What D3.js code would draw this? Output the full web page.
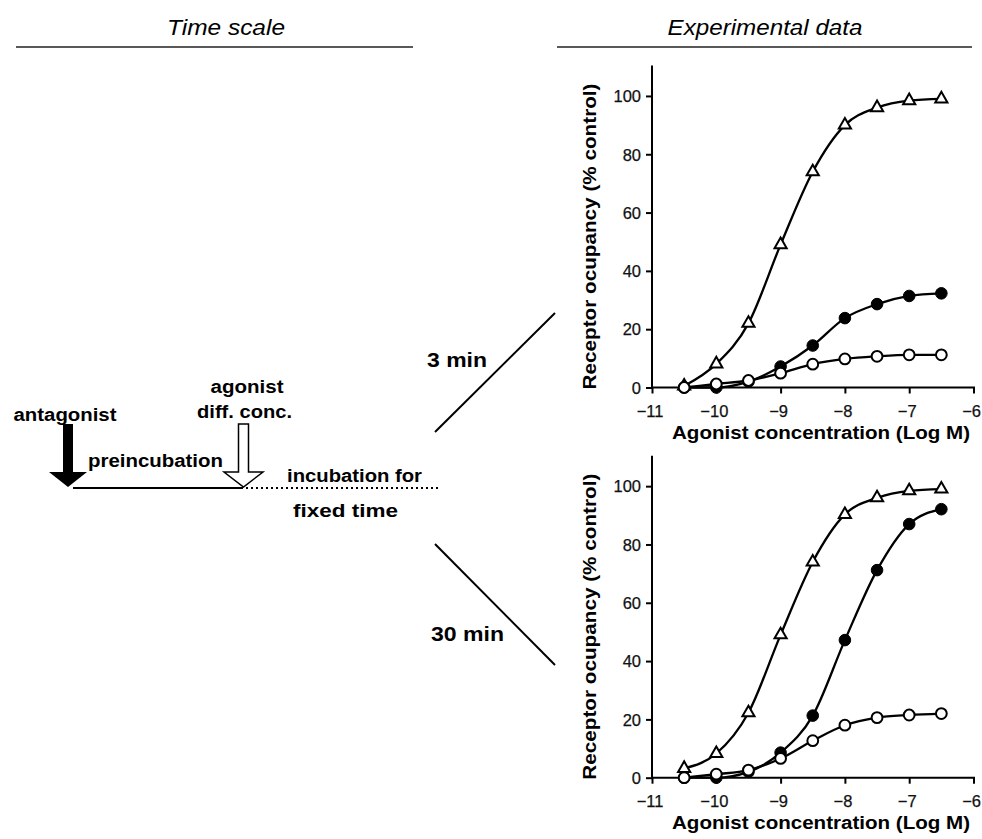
<!DOCTYPE html>
<html><head><meta charset="utf-8">
<script src="https://cdn.jsdelivr.net/npm/d3@7/dist/d3.min.js"></script>
<style>body{margin:0;background:#fff}svg{display:block}</style>
</head><body><svg id="c" width="982" height="839"></svg>
<script>
// ---- data ----
const logConc = [-10.5, -10, -9.5, -9, -8.5, -8, -7.5, -7, -6.5];
const xTicks = [-11, -10, -9, -8, -7, -6];
const yTicks = [0, 20, 40, 60, 80, 100];
// 3 min panel
const min3Triangle = [0.5, 8.1, 22, 49, 74, 90, 96, 98.4, 99];
const min3Filled   = [0, 0, 2, 7.2, 14.4, 23.8, 28.6, 31.4, 32.3];
const min3Open     = [0, 1.2, 2.4, 4.9, 8, 9.8, 10.7, 11.2, 11.2];
// 30 min panel
const min30Triangle = [3.2, 8.3, 22.3, 49, 74, 90.3, 96, 98.4, 99];
const min30Filled   = [0, 0, 2, 8.6, 21.3, 47.2, 71.2, 87, 92.1];
const min30Open     = [0, 1.2, 2.6, 6.6, 12.7, 18, 20.6, 21.5, 22];
const panelLabels = ["3 min", "30 min"];

const svg = d3.select("#c");
const F = "'Liberation Sans', Arial, sans-serif";

function txt(x, y, t, opt) {
  const e = svg.append("text").attr("x", x).attr("y", y).attr("text-anchor", "middle")
    .style("font-family", opt.family || F).style("font-size", opt.size + "px")
    .style("font-weight", opt.weight || "bold").style("font-style", opt.style || "normal").text(t);
  if (opt.len) e.attr("textLength", opt.len).attr("lengthAdjust", "spacingAndGlyphs");
  return e;
}

// headers
txt(226, 35, "Time scale", {size: 22, weight: "normal", style: "italic", len: 118});
txt(765, 35, "Experimental data", {size: 22, weight: "normal", style: "italic", len: 195});
svg.append("line").attr("x1", 16).attr("x2", 413).attr("y1", 47).attr("y2", 47).attr("stroke", "#222").attr("stroke-width", 1.3);
svg.append("line").attr("x1", 557).attr("x2", 972).attr("y1", 47).attr("y2", 47).attr("stroke", "#222").attr("stroke-width", 1.3);

// left diagram labels
txt(65, 421, "antagonist", {size: 18, len: 103});
txt(247, 393, "agonist", {size: 18, len: 73});
txt(244.5, 418, "diff. conc.", {size: 18, len: 95});
txt(155.5, 467, "preincubation", {size: 18, len: 135});
txt(354.5, 482, "incubation for", {size: 18, len: 135});
txt(345.5, 517, "fixed time", {size: 18, len: 105});

// black arrow
svg.append("path").attr("d", "M63,424 L73,424 L73,472 L87,472 L68,487 L49,472 L63,472 Z").attr("fill", "#000");
// open arrow
svg.append("path").attr("d", "M238.5,424 L248.5,424 L248.5,472 L263,472 L243.5,487 L224,472 L238.5,472 Z")
  .attr("fill", "#fff").attr("stroke", "#000").attr("stroke-width", 1.5);
svg.append("line").attr("x1", 73).attr("x2", 243).attr("y1", 488).attr("y2", 488).attr("stroke", "#000").attr("stroke-width", 2);
svg.append("line").attr("x1", 246).attr("x2", 441).attr("y1", 488).attr("y2", 488).attr("stroke", "#000").attr("stroke-width", 2.2).attr("stroke-dasharray", "2,3");

// connector lines
svg.append("line").attr("x1", 435).attr("y1", 432).attr("x2", 555).attr("y2", 313).attr("stroke", "#000").attr("stroke-width", 2);
svg.append("line").attr("x1", 435).attr("y1", 544).attr("x2", 555).attr("y2", 665).attr("stroke", "#000").attr("stroke-width", 2);
txt(457, 367, panelLabels[0], {size: 21, len: 60});
txt(467.5, 641, panelLabels[1], {size: 21, len: 73});

function panel(y0, tri, filled, open) {
  const x = d3.scaleLinear().domain([-11, -6]).range([652, 973.5]);
  const y = d3.scaleLinear().domain([0, 110]).range([y0, y0 - 320.7]);
  const g = svg.append("g");
  const xa = g.append("g").attr("transform", `translate(0,${y0})`)
    .call(d3.axisBottom(x).tickValues(xTicks).tickSize(6).tickSizeOuter(0).tickFormat(d3.format("d")));
  const ya = g.append("g").attr("transform", `translate(652,0)`)
    .call(d3.axisLeft(y).tickValues(yTicks).tickSize(6).tickSizeOuter(0));
  [xa, ya].forEach(a => {
    a.attr("font-size", null).attr("font-family", null);
    a.selectAll("path,line").attr("stroke", "#000").attr("stroke-width", 2);
    a.selectAll("text").style("font-family", F).style("font-size", "16.5px").attr("fill", "#111")
      .attr("stroke", "#111").attr("stroke-width", 0.25);
  });
  xa.select(".domain").attr("d", `M652,0H975`);
  ya.select(".domain").attr("d", `M0,${y0}V${y0 - 322}`);
  xa.selectAll("text").attr("y", 29).attr("dy", 0).attr("dx", "-0.15em");
  ya.selectAll("text").attr("x", -11).attr("dy", "0.35em");
  g.append("text").attr("x", 821).attr("y", y0 + 51).attr("text-anchor", "middle")
    .style("font-family", F).style("font-weight", "bold").style("font-size", "18px")
    .attr("textLength", 298).attr("lengthAdjust", "spacingAndGlyphs")
    .text("Agonist concentration (Log M)");
  g.append("text").attr("transform", `translate(596,${y0 - 151}) rotate(-90)`).attr("text-anchor", "middle")
    .style("font-family", F).style("font-weight", "bold").style("font-size", "18px")
    .attr("textLength", 306).attr("lengthAdjust", "spacingAndGlyphs")
    .text("Receptor ocupancy (% control)");

  const line = d3.line().x((d, i) => x(logConc[i])).y(d => y(d)).curve(d3.curveMonotoneX);
  [tri, filled, open].forEach(s => g.append("path").attr("d", line(s)).attr("fill", "none")
    .attr("stroke", "#000").attr("stroke-width", 2.3));
  g.selectAll(".tri").data(tri).join("path")
    .attr("transform", (d, i) => `translate(${x(logConc[i])},${y(d)})`)
    .attr("d", d3.symbol().type(d3.symbolTriangle).size(64))
    .attr("fill", "#fff").attr("stroke", "#000").attr("stroke-width", 2);
  g.selectAll(".fil").data(filled).join("circle")
    .attr("cx", (d, i) => x(logConc[i])).attr("cy", d => y(d)).attr("r", 5.8)
    .attr("fill", "#000").attr("stroke", "#000").attr("stroke-width", 1);
  g.selectAll(".opn").data(open).join("circle")
    .attr("cx", (d, i) => x(logConc[i])).attr("cy", d => y(d)).attr("r", 5.4)
    .attr("fill", "#fff").attr("stroke", "#000").attr("stroke-width", 2);
}
panel(387.5, min3Triangle, min3Filled, min3Open);
panel(777.7, min30Triangle, min30Filled, min30Open);
</script></body></html>
